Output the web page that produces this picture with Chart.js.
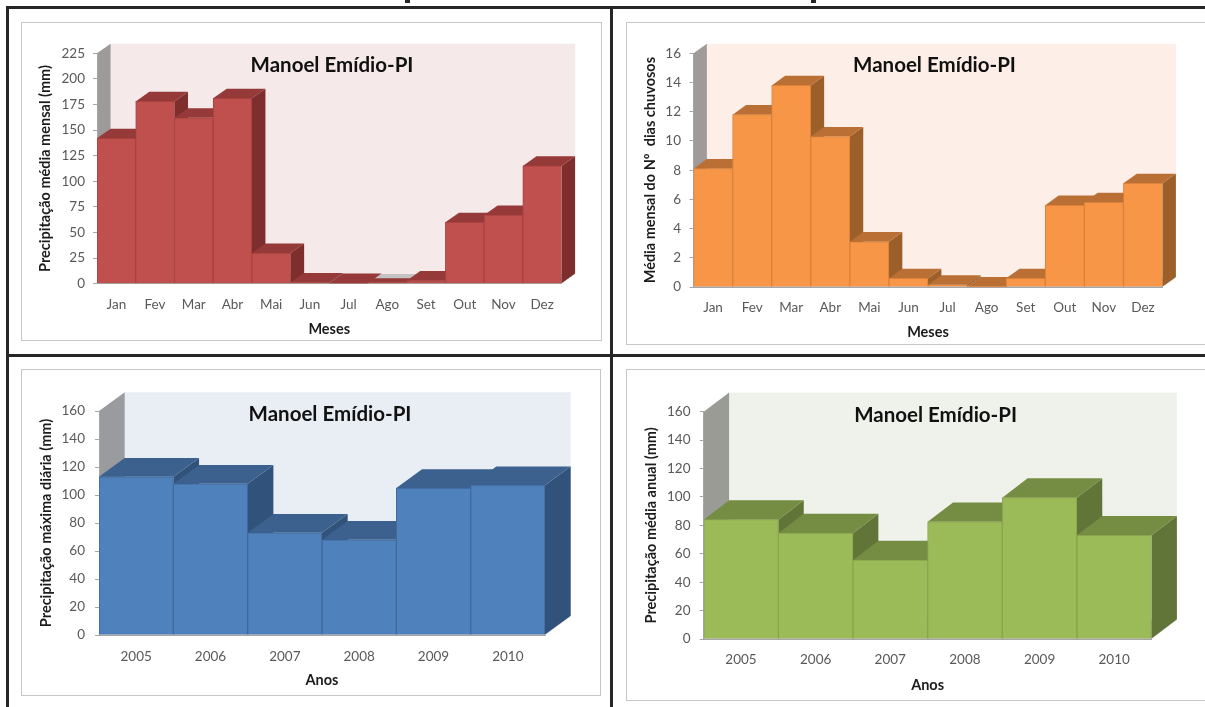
<!DOCTYPE html>
<html lang="pt">
<head>
<meta charset="utf-8">
<title>Manoel Emídio-PI</title>
<script src="https://cdn.jsdelivr.net/npm/chart.js@4/dist/chart.umd.min.js"></script>
<style>
  html, body { margin: 0; padding: 0; background: #fff; overflow: hidden; width: 1205px; height: 707px; }
  .rule { position: absolute; background: #262626; }
  .card { position: absolute; box-sizing: border-box; border: 1px solid #c6c6c6; background: #fff; }
  canvas { position: absolute; left: 0; top: 0; }
</style>
</head>
<body>
<script>
// Monthly and yearly rainfall figures for Manoel Emídio, Piauí
const months = ['Jan', 'Fev', 'Mar', 'Abr', 'Mai', 'Jun', 'Jul', 'Ago', 'Set', 'Out', 'Nov', 'Dez'];
const years = ['2005', '2006', '2007', '2008', '2009', '2010'];
const monthlyRain = [142, 178, 162, 181, 30, 1, 0.5, 1, 3, 60, 67, 115];
const rainyDays = [8.1, 11.8, 13.8, 10.3, 3.1, 0.6, 0.15, 0.02, 0.6, 5.6, 5.8, 7.1];
const maxDailyRain = [113, 108, 73, 68, 105, 107];
const annualRain = [84, 74.5, 55.5, 82.5, 99.5, 73];

const FONT = 'Lato, "Open Sans", sans-serif';
const TITLE = 'Manoel Emídio-PI';

// Frame lines between the four panels
[[6, 6, 1199, 3], [6, 6, 3, 701], [609.5, 6, 3, 701], [6, 354, 1199, 3], [405, 0, 5, 3], [811, 0, 5, 3]]
  .forEach(([x, y, w, h]) => {
    const d = document.createElement('div');
    d.className = 'rule';
    d.style.cssText = `left:${x}px;top:${y}px;width:${w}px;height:${h}px`;
    document.body.appendChild(d);
  });

const panels = [
  {
    labels: months, values: monthlyRain, max: 225, step: 25,
    xTitle: 'Meses', yTitle: 'Precipitação média mensal (mm)',
    card: [21, 22, 602, 341], plot: [97, 561.5, 53.3, 283.7], depth: [13.6, 9.6],
    tickRight: 85, catY: 304, xTitleY: 328, yTitleX: 45.5, titleCenter: [332, 65],
    front: '#c0504d', edge: '#a9413f', top: '#953a38', side: '#7e2e2c', wall: '#f5e9e9', sideWall: '#9e9a9a',
    shallow: { 7: 0.45 }
  },
  {
    labels: months, values: rainyDays, max: 16, step: 2,
    xTitle: 'Meses', yTitle: 'Média mensal do Nº  dias chuvosos',
    card: [626, 22, 1215, 345], plot: [693.5, 1162.5, 53.3, 287], depth: [13.4, 9.6],
    tickRight: 681, catY: 307, xTitleY: 331.5, yTitleX: 650.6, titleCenter: [934.5, 65.5],
    front: '#f79646', edge: '#dc8139', top: '#ba7035', side: '#9c5f2a', wall: '#fdefe7', sideWall: '#a09b98',
    shallow: {}
  },
  {
    labels: years, values: maxDailyRain, max: 160, step: 20,
    xTitle: 'Anos', yTitle: 'Precipitação máxima diária (mm)',
    card: [21, 369, 601, 696], plot: [99, 545, 411, 635], depth: [25.7, 18.7],
    tickRight: 85, catY: 655.7, xTitleY: 679, yTitleX: 46.7, titleCenter: [330, 414],
    front: '#4f81bd', edge: '#41699b', top: '#3c618e', side: '#31527a', wall: '#e9edf4', sideWall: '#999b9f',
    shallow: {}
  },
  {
    labels: years, values: annualRain, max: 160, step: 20,
    xTitle: 'Anos', yTitle: 'Precipitação média anual (mm)',
    card: [626, 369, 1215, 701], plot: [703.7, 1151.5, 411.7, 639], depth: [25.4, 19.3],
    tickRight: 690.5, catY: 659, xTitleY: 684, yTitleX: 651.7, titleCenter: [935.6, 415],
    front: '#9bbb59', edge: '#88a44c', top: '#758d43', side: '#617538', wall: '#eff2ea', sideWall: '#9a9b95',
    shallow: {}
  }
];

function polygon(ctx, color, pts) {
  ctx.fillStyle = color;
  ctx.beginPath();
  pts.forEach(([x, y], i) => (i ? ctx.lineTo(x, y) : ctx.moveTo(x, y)));
  ctx.closePath();
  ctx.fill();
}

// Draws the back wall, side wall and floor, then the top and side of each column
const box3d = {
  id: 'box3d',
  beforeDraw(chart, _args, o) {
    const { left, right, top, bottom } = chart.chartArea;
    const [dx, dy] = o.depth;
    const ctx = chart.ctx;
    polygon(ctx, o.wall, [[left + dx, top - dy], [right + dx, top - dy], [right + dx, bottom - dy], [left + dx, bottom - dy]]);
    polygon(ctx, o.sideWall, [[left, top], [left + dx, top - dy], [left + dx, bottom - dy], [left, bottom]]);
    polygon(ctx, '#c4c2c2', [[left, bottom], [left + dx, bottom - dy], [right + dx, bottom - dy], [right, bottom]]);
  },
  beforeDatasetsDraw(chart, _args, o) {
    const ctx = chart.ctx;
    chart.getDatasetMeta(0).data.forEach((bar, i) => {
      const f = o.shallow[i] || 1;
      const dx = o.depth[0] * f, dy = o.depth[1] * f;
      const l = bar.x - bar.width / 2, r = bar.x + bar.width / 2;
      polygon(ctx, o.side, [[r, bar.y], [r + dx, bar.y - dy], [r + dx, bar.base - dy], [r, bar.base]]);
      polygon(ctx, o.top, [[l, bar.y], [l + dx, bar.y - dy], [r + dx, bar.y - dy], [r, bar.y]]);
    });
  },
  afterDatasetsDraw(chart, _args, o) {
    const ctx = chart.ctx;
    ctx.save();
    ctx.fillStyle = '#111';
    ctx.font = `bold 20.5px ${FONT}`;
    ctx.textAlign = 'center';
    ctx.textBaseline = 'middle';
    ctx.fillText(TITLE, o.titleX, o.titleY);
    ctx.restore();
  }
};

panels.forEach(p => {
  const [cl, ct, cr, cb] = p.card;
  const [pl, pr, pt, pb] = p.plot;
  const w = cr - cl, h = cb - ct;

  const card = document.createElement('div');
  card.className = 'card';
  card.style.cssText = `left:${cl}px;top:${ct}px;width:${w}px;height:${h}px`;
  const canvas = document.createElement('canvas');
  canvas.width = w;
  canvas.height = h;
  canvas.style.cssText = 'left:-1px;top:-1px';
  card.appendChild(canvas);
  document.body.appendChild(card);

  const tickFont = { family: FONT, size: 13.5 };
  const titleFont = { family: FONT, size: 14.5, weight: 'bold', lineHeight: 1.2 };
  const titleHalf = 14.5 * 1.2 / 2;

  new Chart(canvas, {
    type: 'bar',
    data: {
      labels: p.labels,
      datasets: [{
        data: p.values,
        backgroundColor: p.front,
        borderColor: p.edge,
        borderWidth: 1,
        barPercentage: 1,
        categoryPercentage: 1
      }]
    },
    plugins: [box3d],
    options: {
      responsive: false,
      animation: false,
      events: [],
      layout: { padding: { left: 0, top: pt - ct, right: cr - pr, bottom: 0 } },
      plugins: {
        legend: { display: false },
        tooltip: { enabled: false },
        box3d: {
          depth: p.depth, wall: p.wall, sideWall: p.sideWall, top: p.top, side: p.side, shallow: p.shallow,
          titleX: p.titleCenter[0] - cl, titleY: p.titleCenter[1] - ct
        }
      },
      scales: {
        x: {
          afterFit: s => { s.height = cb - pb; },
          grid: { drawOnChartArea: false, drawTicks: false },
          border: { color: '#a6a6a6' },
          ticks: { color: '#595959', font: tickFont, padding: p.catY - pb - 7, maxRotation: 0, autoSkip: false },
          title: {
            display: true, text: p.xTitle, color: '#1c1c1c', font: titleFont,
            padding: { top: 0, bottom: cb - p.xTitleY - titleHalf - 1 }
          }
        },
        y: {
          min: 0, max: p.max,
          afterFit: s => { s.width = pl - cl; },
          grid: { drawOnChartArea: false, drawTicks: true, tickLength: 4, color: '#a6a6a6' },
          border: { color: '#a6a6a6' },
          ticks: { color: '#595959', font: tickFont, stepSize: p.step, padding: pl - 4 - p.tickRight },
          title: {
            display: true, text: p.yTitle, color: '#1c1c1c', font: titleFont,
            padding: { top: p.yTitleX - cl - titleHalf, bottom: 0 }
          }
        }
      }
    }
  });
});
</script>
</body>
</html>
